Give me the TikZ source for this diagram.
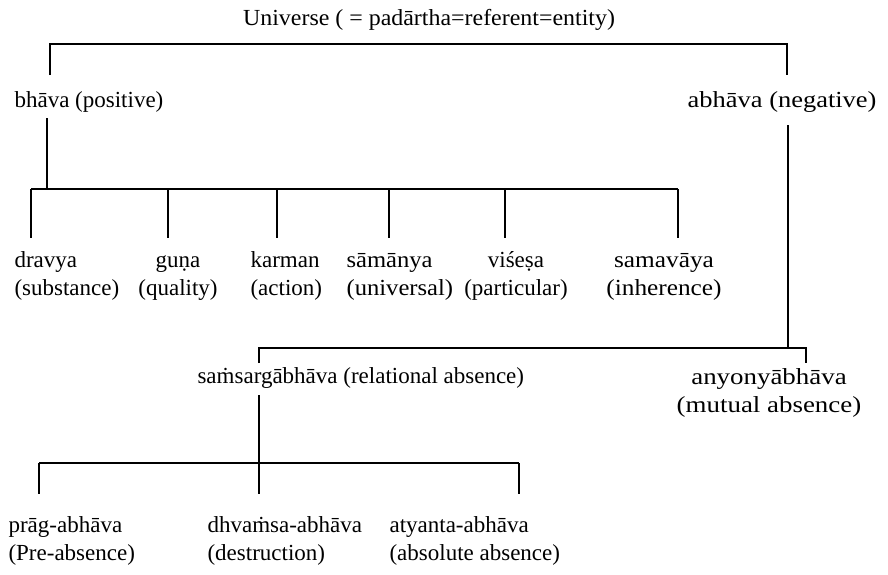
\documentclass[tikz,border=0pt]{standalone}
\usepackage{fontspec}
\setmainfont{Liberation Serif}
\usetikzlibrary{positioning,calc}

\begin{document}
\begin{tikzpicture}[x=1pt,y=-1pt,line width=1.1pt,
  lbl/.style={inner sep=0pt,font=\fontsize{23}{28}\selectfont},
  stretched/.style={lbl,font=\fontsize{23}{28}\selectfont\addfontfeatures{FakeStretch=#1}}]
\useasboundingbox (0,0) rectangle (888,574);
% top level
\node[stretched=1.04] (univ) at (429,20) {Universe ( = padārtha=referent=entity)};
\node[lbl,anchor=west] (bhava) at (14,102) {bhāva (positive)};
\node[stretched=1.15,anchor=east] (abhava) at (877,102) {abhāva (negative)};
\coordinate (top-l) at (50,44); \coordinate (top-r) at (787,44);
\coordinate (bhava-in) at (50,75); \coordinate (abhava-in) at (787,75);
\draw (bhava-in) -- (top-l) -- (top-r) -- (abhava-in);
% six categories of bhava
\coordinate (bhava-out) at (47,118); \coordinate (mid-bar) at (47,189);
\draw (bhava-out) -- (mid-bar);
\foreach \n/\x/\dx/\anc/\al/\st/\txt in {
  dravya/31/14/west/left/1/{dravya\\\strut(substance)},
  guna/168/178/center/center/1/{guṇa\\\strut(quality)},
  karman/277/250/west/left/1/{karman\\\strut(action)},
  samanya/389/346/west/left/1.07/{sāmānya\\\strut(universal)},
  visesa/505/516/center/center/1/{viśeṣa\\\strut(particular)},
  samavaya/678/664/center/center/1.1/{samavāya\\\strut(inherence)}} {
  \coordinate (\n-in) at (\x,238);
  \node[stretched=\st,anchor=\anc,align=\al] (\n) at (\dx,276) {\strut\txt};
  \draw (\n-in |- mid-bar) -- (\n-in);
}
\draw (dravya-in |- mid-bar) -- (samavaya-in |- mid-bar);
% kinds of abhava
\coordinate (abhava-out) at (788,125); \coordinate (low-bar) at (788,348);
\draw (abhava-out) -- (low-bar);
\node[lbl,anchor=west] (samsarga) at (197,378) {saṁsargābhāva (relational absence)};
\node[stretched=1.17,align=center] (anyonya) at (769,393) {\strut anyonyābhāva\\\strut(mutual absence)};
\coordinate (samsarga-in) at (259,363); \coordinate (anyonya-in) at (806,363);
\draw (samsarga-in) -- (samsarga-in |- low-bar) -- (anyonya-in |- low-bar) -- (anyonya-in);
% kinds of samsargabhava
\coordinate (samsarga-out) at (259,395); \coordinate (base-bar) at (259,463);
\draw (samsarga-out) -- (base-bar);
\foreach \n/\x/\dx/\txt in {
  prag/39/8/{prāg-abhāva\\\strut(Pre-absence)},
  dhvamsa/259/207/{dhvaṁsa-abhāva\\\strut(destruction)},
  atyanta/519/389/{atyanta-abhāva\\\strut(absolute absence)}} {
  \coordinate (\n-in) at (\x,494);
  \node[lbl,anchor=west,align=left] (\n) at (\dx,541) {\strut\txt};
  \draw (\n-in |- base-bar) -- (\n-in);
}
\draw (prag-in |- base-bar) -- (atyanta-in |- base-bar);
\end{tikzpicture}
\end{document}
